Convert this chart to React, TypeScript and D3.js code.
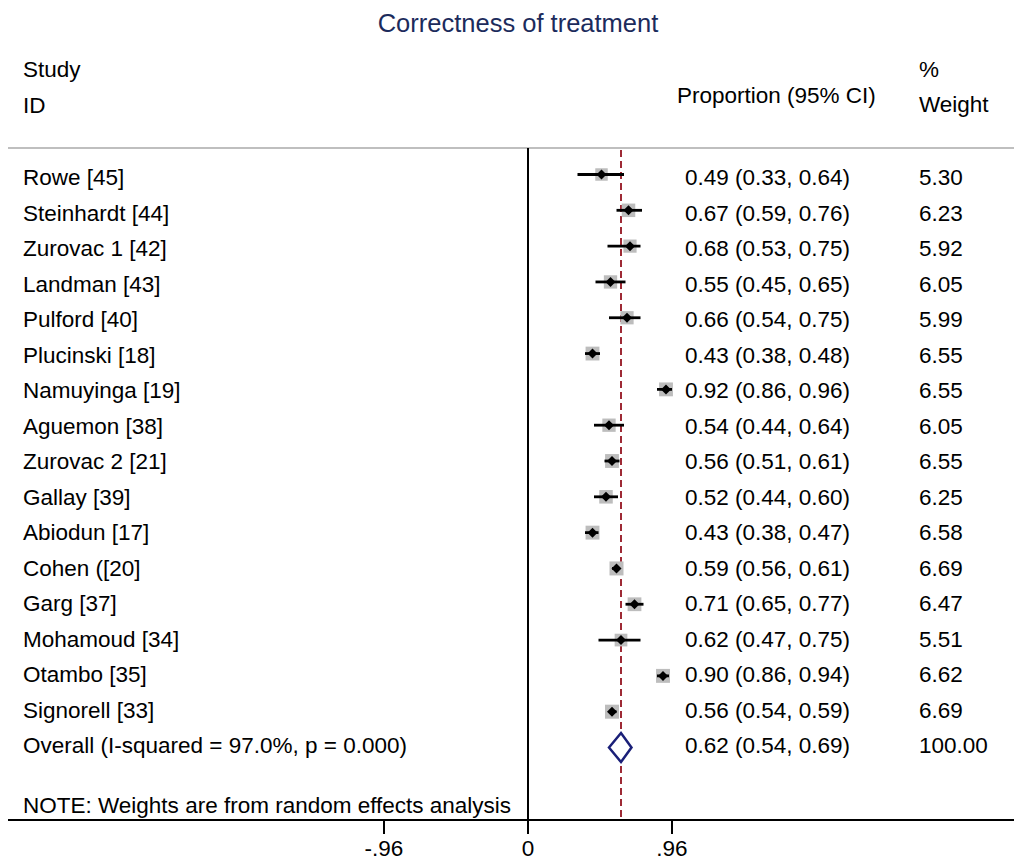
import React from "react";
import * as d3 from "d3";

const studies = [
  "Rowe [45]",
  "Steinhardt [44]",
  "Zurovac 1 [42]",
  "Landman [43]",
  "Pulford [40]",
  "Plucinski [18]",
  "Namuyinga [19]",
  "Aguemon [38]",
  "Zurovac 2 [21]",
  "Gallay [39]",
  "Abiodun [17]",
  "Cohen ([20]",
  "Garg [37]",
  "Mohamoud [34]",
  "Otambo [35]",
  "Signorell [33]",
];
const estimates = [0.49, 0.67, 0.68, 0.55, 0.66, 0.43, 0.92, 0.54, 0.56, 0.52, 0.43, 0.59, 0.71, 0.62, 0.9, 0.56];
const lower = [0.33, 0.59, 0.53, 0.45, 0.54, 0.38, 0.86, 0.44, 0.51, 0.44, 0.38, 0.56, 0.65, 0.47, 0.86, 0.54];
const upper = [0.64, 0.76, 0.75, 0.65, 0.75, 0.48, 0.96, 0.64, 0.61, 0.6, 0.47, 0.61, 0.77, 0.75, 0.94, 0.59];
const weights = [5.3, 6.23, 5.92, 6.05, 5.99, 6.55, 6.55, 6.05, 6.55, 6.25, 6.58, 6.69, 6.47, 5.51, 6.62, 6.69];

const overallLabel = "Overall (I-squared = 97.0%, p = 0.000)";
const overall = { est: 0.62, lo: 0.54, hi: 0.69, weight: 100 };

const tickValues = [-0.96, 0, 0.96];
const tickLabels = ["-.96", "0", ".96"];

const FONT = "'Liberation Sans', Arial, Helvetica, sans-serif";

export default function App() {
  const W = 1014;
  const H = 860;
  const x = d3.scaleLinear().domain([-0.96, 0.96]).range([384, 672]);
  const nRows = studies.length + 1;
  const idx = d3.range(nRows).map(String);
  const yMark = d3.scalePoint<string>().domain(idx).range([174.5, 747.5]);
  const yText = d3.scalePoint<string>().domain(idx).range([185, 753]);
  const box = d3.scaleSqrt().domain([0, 6.69]).range([0, 14]);
  const fmt = d3.format(".2f");
  const axisY = 820;
  const fs = 22.5;

  const dm = 5;
  const diamondPath = (cx: number, cy: number) =>
    `M${cx - dm},${cy}L${cx},${cy - dm}L${cx + dm},${cy}L${cx},${cy + dm}Z`;

  const oy = yMark(String(studies.length))!;
  const oPath = `M${x(overall.lo)},${oy}L${x(overall.est)},${oy - 14.5}L${x(overall.hi)},${oy}L${x(overall.est)},${oy + 14.5}Z`;

  return (
    <svg
      width={W}
      height={H}
      style={{ position: "absolute", left: 0, top: 0, background: "#fff" }}
      fontFamily={FONT}
    >
      <rect width={W} height={H} fill="#fff" />
      <text x={518} y={32} textAnchor="middle" fontSize={25.5} fill="#1c2b5c">
        Correctness of treatment
      </text>
      <text x={23} y={77} fontSize={fs} fill="#000">Study</text>
      <text x={23} y={113} fontSize={fs} fill="#000">ID</text>
      <text x={677} y={103} fontSize={fs} fill="#000">Proportion (95% CI)</text>
      <text x={919} y={77} fontSize={fs} fill="#000">%</text>
      <text x={919} y={112} fontSize={fs} fill="#000">Weight</text>

      <line x1={8} x2={W} y1={148} y2={148} stroke="#bfbfbf" strokeWidth={2} />

      {/* null line */}
      <line x1={x(0)} x2={x(0)} y1={148} y2={axisY} stroke="#000" strokeWidth={2} />

      {/* overall dashed line */}
      <line
        x1={x(overall.est)}
        x2={x(overall.est)}
        y1={150}
        y2={axisY}
        stroke="#9e2a35"
        strokeWidth={2}
        strokeDasharray="7,4"
      />

      {studies.map((s, i) => {
        const cy = yMark(String(i))!;
        const ty = yText(String(i))!;
        const side = box(weights[i]);
        const cx = x(estimates[i]);
        return (
          <g key={s}>
            <text x={23} y={ty} fontSize={fs} fill="#000">{s}</text>
            <rect x={cx - side / 2} y={cy - side / 2} width={side} height={side} fill="#bdbdbd" />
            <line x1={x(lower[i])} x2={x(upper[i])} y1={cy} y2={cy} stroke="#000" strokeWidth={2.8} />
            <path d={diamondPath(cx, cy)} fill="#000" />
            <text x={685} y={ty} fontSize={fs} fill="#000">
              {`${fmt(estimates[i])} (${fmt(lower[i])}, ${fmt(upper[i])})`}
            </text>
            <text x={919} y={ty} fontSize={fs} fill="#000">{fmt(weights[i])}</text>
          </g>
        );
      })}

      {/* overall */}
      <text x={23} y={yText(String(studies.length))!} fontSize={fs} fill="#000">{overallLabel}</text>
      <path d={oPath} fill="#fff" stroke="#1a1f78" strokeWidth={2.5} />
      <text x={685} y={yText(String(studies.length))!} fontSize={fs} fill="#000">
        {`${fmt(overall.est)} (${fmt(overall.lo)}, ${fmt(overall.hi)})`}
      </text>
      <text x={919} y={yText(String(studies.length))!} fontSize={fs} fill="#000">{fmt(overall.weight)}</text>

      <text x={23} y={813} fontSize={fs} fill="#000">NOTE: Weights are from random effects analysis</text>

      {/* axis */}
      <line x1={8} x2={W} y1={axisY} y2={axisY} stroke="#000" strokeWidth={2} />
      {tickValues.map((t, i) => (
        <g key={t}>
          <line x1={x(t)} x2={x(t)} y1={axisY} y2={axisY + 14} stroke="#000" strokeWidth={2} />
          <text x={x(t)} y={856} textAnchor="middle" fontSize={fs} fill="#000">{tickLabels[i]}</text>
        </g>
      ))}
    </svg>
  );
}
